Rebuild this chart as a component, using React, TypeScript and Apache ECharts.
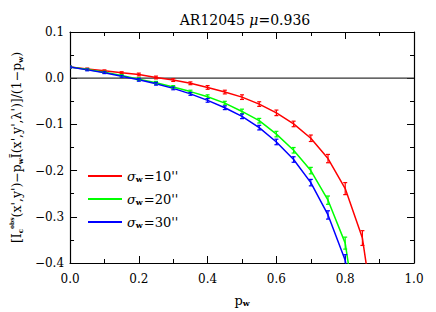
import React, { useEffect, useRef } from "react";
import * as echarts from "echarts";

const pw = [0, 0.05, 0.1, 0.15, 0.2, 0.25, 0.3, 0.35, 0.4, 0.45, 0.5, 0.55, 0.6, 0.65, 0.7, 0.75, 0.8, 0.85, 0.9];
const red = [0.024, 0.02, 0.016, 0.012, 0.008, 0.0015, -0.004, -0.011, -0.02, -0.03, -0.041, -0.056, -0.075, -0.099, -0.13, -0.174, -0.239, -0.346, -0.6];
const redErr = [0.002, 0.002, 0.002, 0.002, 0.003, 0.003, 0.003, 0.003, 0.004, 0.004, 0.005, 0.005, 0.006, 0.006, 0.007, 0.009, 0.013, 0.016, 0.02];
const green = [0.024, 0.019, 0.013, 0.006, -0.002, -0.01, -0.019, -0.029, -0.04, -0.054, -0.072, -0.092, -0.121, -0.156, -0.2, -0.264, -0.357, -0.6];
const greenErr = [0.002, 0.002, 0.002, 0.002, 0.003, 0.003, 0.003, 0.003, 0.004, 0.004, 0.005, 0.005, 0.006, 0.006, 0.007, 0.009, 0.013, 0.02];
const blue = [0.024, 0.018, 0.012, 0.004, -0.0035, -0.012, -0.022, -0.034, -0.048, -0.064, -0.0825, -0.107, -0.138, -0.176, -0.226, -0.296, -0.394, -0.62];
const blueErr = [0.002, 0.002, 0.002, 0.002, 0.003, 0.003, 0.003, 0.003, 0.004, 0.004, 0.005, 0.005, 0.006, 0.006, 0.007, 0.009, 0.012, 0.02];
const seriesNames = ["s10", "s20", "s30"];
const seriesLabels = ["10''", "20''", "30''"];
const colors = ["#ff0000", "#00ff00", "#0000ff"];

const FONT = "DejaVu Serif";

function pairs(vals: number[]) {
  return vals.map((v, i) => [pw[i], v]);
}
function errData(vals: number[], errs: number[]) {
  return vals.map((v, i) => [pw[i], v - errs[i], v + errs[i]]);
}

export default function App() {
  const ref = useRef<HTMLDivElement>(null);
  useEffect(() => {
    const chart = echarts.init(ref.current!, undefined, { renderer: "svg" });
    const errRender = (color: string) => (params: any, api: any) => {
      const x = api.value(0);
      const lo = api.coord([x, api.value(1)]);
      const hi = api.coord([x, api.value(2)]);
      const w = 2;
      const style = { stroke: color, lineWidth: 1.2 };
      return {
        type: "group",
        children: [
          { type: "line", shape: { x1: lo[0], y1: lo[1], x2: hi[0], y2: hi[1] }, style },
          { type: "line", shape: { x1: lo[0] - w, y1: lo[1], x2: lo[0] + w, y2: lo[1] }, style },
          { type: "line", shape: { x1: hi[0] - w, y1: hi[1], x2: hi[0] + w, y2: hi[1] }, style },
        ],
      };
    };
    const valsList = [red, green, blue];
    const errList = [redErr, greenErr, blueErr];
    const lineSeries: any[] = valsList.map((vals, k) => ({
      name: seriesNames[k],
      type: "line",
      data: pairs(vals),
      showSymbol: false,
      symbol: "none",
      lineStyle: { color: colors[k], width: 1.5 },
      itemStyle: { color: colors[k] },
      clip: true,
      z: 3,
    }));
    const errSeries: any[] = valsList.map((vals, k) => ({
      type: "custom",
      data: errData(vals, errList[k]),
      renderItem: errRender(colors[k]),
      clip: true,
      encode: { x: 0, y: [1, 2] },
      z: 4,
    }));
    const axisLine = { show: true, onZero: false, lineStyle: { color: "#000", width: 1.2 } };
    const labelStyle = { fontFamily: FONT, fontSize: 12, color: "#000" };
    const tick = { show: true, inside: true, length: 7, lineStyle: { color: "#000" } };
    const minor = { show: true, splitNumber: 2, length: 4, lineStyle: { color: "#000" } };
    chart.setOption({
      animation: false,
      backgroundColor: "#fff",
      title: {
        text: "{n|AR12045 }{i|μ}{n|=0.936}",
        left: 240,
        textAlign: "center",
        top: 8,
        textStyle: {
          fontWeight: "normal",
          rich: {
            n: { fontFamily: FONT, fontSize: 14, fontWeight: "normal", color: "#000" },
            i: { fontFamily: FONT, fontSize: 14, fontWeight: "normal", fontStyle: "italic", color: "#000" },
          },
        },
      },
      legend: {
        orient: "vertical",
        left: 83,
        top: 164,
        itemWidth: 34,
        itemHeight: 2,
        itemGap: 9,
        icon: "rect",
        data: seriesNames,
        formatter: (name: string) => {
          const i = seriesNames.indexOf(name);
          return "{s|σ}{w|w}{n|=" + seriesLabels[i] + "}";
        },
        textStyle: {
          rich: {
            s: { fontFamily: FONT, fontSize: 13, fontStyle: "italic", color: "#000", lineHeight: 14, verticalAlign: "middle" },
            w: { fontFamily: FONT, fontSize: 8, fontWeight: "bold", color: "#000", verticalAlign: "bottom", lineHeight: 14, padding: [6, 1, 0, 0] },
            n: { fontFamily: FONT, fontSize: 13, color: "#000", lineHeight: 14, verticalAlign: "middle" },
          },
        },
      },
      grid: { left: 66, right: 22, top: 32, bottom: 48 },
      xAxis: [
        {
          type: "value",
          min: 0,
          max: 1,
          interval: 0.2,
          position: "bottom",
          axisLine,
          axisTick: tick,
          minorTick: minor,
          splitLine: { show: false },
          axisLabel: { ...labelStyle, margin: 10, formatter: (v: number) => v.toFixed(1) },
          name: "{n|p}{w|w}",
          nameLocation: "middle",
          nameGap: 30,
          nameTextStyle: {
            rich: {
              n: { fontFamily: FONT, fontSize: 13, color: "#000", lineHeight: 14, verticalAlign: "middle" },
              w: { fontFamily: FONT, fontSize: 8, fontWeight: "bold", color: "#000", lineHeight: 14, verticalAlign: "bottom", padding: [6, 0, 0, 0] },
            },
          },
        },
        {
          type: "value",
          min: 0,
          max: 1,
          interval: 0.2,
          position: "top",
          axisLine,
          axisTick: tick,
          minorTick: minor,
          splitLine: { show: false },
          axisLabel: { show: false },
        },
      ],
      yAxis: [
        {
          type: "value",
          min: -0.4,
          max: 0.1,
          interval: 0.1,
          position: "left",
          axisLine,
          axisTick: tick,
          minorTick: minor,
          splitLine: { show: false },
          axisLabel: {
            ...labelStyle,
            margin: 6,
            formatter: (v: number) => (Math.abs(v) < 1e-9 ? "0.0" : v.toFixed(1).replace("-", "−")),
          },
          name:
            "{n|[I}{sub|c}{sup|obs}{n|(x',y')−p}{sub|w}{n|Ĩ(x',y',λ')]/(1−p}{sub|w}{n|)}",
          nameLocation: "middle",
          nameGap: 45,
          nameRotate: 90,
          nameTextStyle: {
            rich: {
              n: { fontFamily: FONT, fontSize: 12.5, color: "#000", lineHeight: 16, verticalAlign: "middle" },
              sub: { fontFamily: FONT, fontSize: 7, fontWeight: "bold", color: "#000", lineHeight: 16, verticalAlign: "bottom", padding: [7, 0, 0, 0] },
              sup: { fontFamily: FONT, fontSize: 6, fontWeight: "bold", color: "#000", lineHeight: 16, verticalAlign: "top", padding: [0, 0, 7, 0] },
            },
          },
        },
        {
          type: "value",
          min: -0.4,
          max: 0.1,
          interval: 0.1,
          position: "right",
          axisLine,
          axisTick: tick,
          minorTick: minor,
          splitLine: { show: false },
          axisLabel: { show: false },
        },
      ],
      series: [
        {
          type: "line",
          data: [[0, 0], [1, 0]],
          symbol: "none",
          lineStyle: { color: "#333", width: 1.2 },
          silent: true,
          z: 2,
        },
        ...lineSeries,
        ...errSeries,
      ],
    });
    return () => chart.dispose();
  }, []);
  return <div ref={ref} style={{ position: "fixed", left: 0, top: 0, width: 436, height: 312 }} />;
}
